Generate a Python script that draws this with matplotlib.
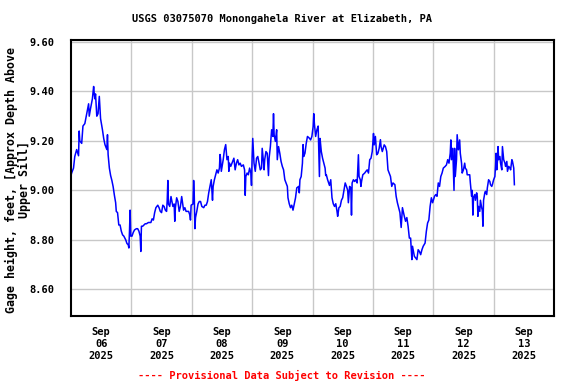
import matplotlib
matplotlib.use("Agg")
import matplotlib.pyplot as plt
import pandas as pd

title = "USGS 03075070 Monongahela River at Elizabeth, PA"
ylabel = "Gage height, feet, [Approx Depth Above\nUpper Sill]"
footer = "---- Provisional Data Subject to Revision ----"
start = "2025-09-06 00:00"
end = "2025-09-14 00:00"
yticks = [8.60, 8.80, 9.00, 9.20, 9.40, 9.60]

# hours after Sep 06 2025 00:00 and gage height (ft)
hours = [
    0.0, 0.25, 1.0, 1.5, 2.25, 3.0, 3.25, 3.5, 4.25, 4.75, 5.5, 6.25, 7.0, 7.25, 7.75, 8.5, 9.0, 9.25, 9.5, 9.75,
    10.25, 10.75, 11.25, 11.75, 12.5, 13.0, 13.5, 14.25, 14.5, 14.75, 15.25, 15.75, 16.25, 16.75, 17.25, 17.75,
    18.0, 18.5, 19.0, 19.5, 20.0, 20.5, 21.0, 21.75, 22.25, 22.75, 23.0, 23.25, 23.5, 23.75, 24.25, 24.75, 25.25,
    26.0, 26.5, 27.0, 27.5, 27.75, 28.0, 28.5, 29.0, 29.5, 30.0, 30.75, 31.25, 31.75, 32.25, 32.75, 33.25, 33.75,
    34.5, 35.0, 35.5, 36.0, 36.5, 37.0, 37.5, 38.0,
    38.25, 38.5, 38.75, 39.25, 39.75, 40.5, 41.0, 41.25, 41.5, 42.0, 42.5, 43.0, 43.5, 44.0, 44.75, 45.25, 45.75,
    46.25, 46.75, 47.25, 47.5, 47.75, 48.5, 48.75, 49.0, 49.25, 49.5, 50.0, 50.5, 51.0, 51.5, 52.0, 52.75, 53.25,
    53.75, 54.25, 54.75, 55.25, 55.75, 56.25, 56.5, 57.0, 57.5, 58.0, 58.5, 59.0, 59.25, 59.5, 59.75, 60.5, 61.0,
    61.5, 62.0, 62.5, 62.75, 63.0, 63.5, 64.0, 64.75, 65.25, 65.75, 66.25, 66.75, 67.25, 67.75, 68.5, 69.0, 69.25,
    69.5, 70.0, 70.5, 71.0, 71.5, 71.75, 72.0, 72.25, 72.75, 73.25, 73.75, 74.25, 74.75, 75.25, 75.75, 76.0, 76.5,
    76.75, 77.0, 77.5, 78.0, 78.5, 78.75, 79.25, 79.75, 80.25, 80.5, 80.75, 81.25, 81.75, 82.0, 82.5, 83.0, 83.5,
    84.0, 84.5, 85.0, 85.5, 86.0, 86.25, 86.75, 87.25, 87.75, 88.25, 88.75, 89.25, 89.75, 90.5, 90.75, 91.0, 91.5,
    92.0, 92.25, 92.5, 93.0, 93.5, 94.0, 94.75, 95.25, 95.75, 96.25, 96.5, 96.75, 97.25, 97.75, 98.25, 98.75, 99.0,
    99.5, 100.0, 100.5, 101.0, 101.25, 101.5, 102.0, 102.75, 103.25, 103.75, 104.25, 104.75, 105.25, 105.75, 106.0,
    106.5, 107.0, 107.5, 108.0, 108.5, 109.0, 109.5, 110.0, 110.25, 110.75, 111.25, 111.5, 111.75, 112.25, 112.75,
    113.25, 113.75,
    114.0, 114.25, 114.5, 115.0, 115.25, 115.5, 116.0, 116.75, 117.25, 117.75, 118.25, 118.75, 119.25, 119.75,
    120.25, 120.5, 121.0, 121.5, 122.0, 122.5, 123.0, 123.25, 123.75, 124.5, 125.0, 125.5, 126.0, 126.5, 127.0,
    127.5, 128.0, 128.75, 129.25, 129.75, 130.25, 130.75, 131.25, 131.75, 132.5, 133.0, 133.5, 134.0, 134.5, 135.0,
    135.5, 135.75, 136.5, 137.0, 137.5, 138.0, 138.5, 139.0, 139.5, 140.0, 140.75, 141.25, 141.75, 142.25, 142.75,
    143.25, 143.75, 144.5, 145.0, 145.5, 146.0, 146.5, 147.0, 147.5, 148.0, 148.75, 149.25, 149.75, 150.25, 150.75,
    151.0, 151.25, 151.75, 152.25, 152.5,
    152.75, 153.25, 153.5, 154.0, 154.5, 154.75, 155.25, 155.5, 156.0, 156.5, 156.75, 157.25, 157.5, 158.0, 158.5,
    158.75, 159.25, 159.5, 159.75, 160.0, 160.5, 160.75, 161.25, 161.5, 161.75, 162.0, 162.5, 162.75, 163.25, 163.5,
    163.75, 164.0, 164.5, 164.75, 165.25, 165.5, 166.0, 166.5, 166.75, 167.25, 167.5, 168.0, 168.5, 168.75, 169.0,
    169.25, 169.5, 169.75, 170.0, 170.5, 170.75, 171.25, 171.5, 172.0, 172.5, 172.75, 173.25, 173.5, 174.0, 174.5,
    174.75, 175.25, 175.5, 176.0, 176.25,
]
gage_ft = [
    9.06, 9.07, 9.09, 9.137, 9.165, 9.14, 9.24, 9.20, 9.19, 9.26, 9.27, 9.31, 9.35, 9.30, 9.33, 9.37, 9.42, 9.39, 9.37, 9.39,
    9.30, 9.31, 9.38, 9.29, 9.245, 9.21, 9.185, 9.165, 9.225, 9.145, 9.09, 9.06, 9.04, 9.015, 8.98, 8.95,
    8.915, 8.91, 8.86, 8.86, 8.835, 8.82, 8.815, 8.80, 8.785, 8.78, 8.767, 8.835, 8.92, 8.815, 8.815, 8.83, 8.84,
    8.845, 8.845, 8.835, 8.815, 8.753, 8.855, 8.855, 8.86, 8.865, 8.865, 8.87, 8.87, 8.87, 8.885, 8.88, 8.91, 8.93,
    8.94, 8.93, 8.915, 8.91, 8.94, 8.935, 8.92, 8.915,
    8.96, 9.04, 8.945, 8.935, 8.975, 8.935, 8.945, 8.875, 8.93, 8.97, 8.955, 8.915, 8.935, 8.975, 8.92, 8.93, 8.915,
    8.915, 8.915, 8.90, 8.88, 8.94, 8.945, 9.04, 8.98, 8.845, 8.89, 8.915, 8.945, 8.955, 8.955, 8.935, 8.93, 8.94,
    8.94, 8.955, 8.99, 9.016, 9.043, 8.96, 9.016, 9.043, 9.063, 9.083, 9.07, 9.09, 9.145, 9.124, 9.077, 9.124, 9.165,
    9.185, 9.124, 9.137, 9.077, 9.11, 9.097, 9.11, 9.13, 9.083, 9.11, 9.124, 9.103, 9.11, 9.097, 9.103, 9.083, 8.98,
    9.056, 9.07, 9.063, 9.09, 9.07, 9.02, 9.137, 9.21, 9.11, 9.077, 9.13, 9.137, 9.11, 9.083, 9.09, 9.17, 9.117,
    9.083, 9.124, 9.157, 9.15, 9.06, 9.13, 9.177, 9.245, 9.218, 9.31, 9.225, 9.198, 9.245, 9.124, 9.177, 9.15, 9.117,
    9.097, 9.083, 9.043, 9.03, 9.016, 8.97, 8.946, 8.93, 8.94, 8.92, 8.946, 8.97, 9.01, 9.016, 8.99, 9.043, 9.056,
    9.11, 9.185, 9.137, 9.15, 9.19, 9.218, 9.211, 9.204, 9.218, 9.258, 9.31, 9.27, 9.218, 9.245, 9.26, 9.056, 9.21,
    9.157, 9.13, 9.11, 9.09, 9.06, 9.063, 9.043, 9.02, 9.043, 8.97, 8.946, 8.935, 8.946, 8.915, 8.895,
    8.93, 8.935, 8.96, 8.97, 9.00, 9.03, 9.016, 9.00, 8.95, 9.016, 9.01, 8.90, 9.03, 9.043, 9.036,
    9.043, 9.03,
    9.09, 9.144, 9.056, 9.043, 9.016, 9.036, 9.063, 9.07, 9.077, 9.083, 9.07, 9.124, 9.13, 9.157,
    9.23, 9.184, 9.218, 9.144, 9.15, 9.17, 9.205, 9.177, 9.157, 9.184, 9.177, 9.157, 9.083, 9.07, 9.056,
    9.016, 9.03, 9.023, 8.976, 8.95, 8.93, 8.91, 8.85, 8.93, 8.895, 8.875, 8.89, 8.855, 8.807, 8.807,
    8.72, 8.774, 8.733, 8.727, 8.72, 8.76, 8.753, 8.74, 8.76, 8.774, 8.787, 8.834, 8.868, 8.88, 8.935,
    8.97, 8.95, 8.976, 8.983, 8.976, 9.03, 9.016, 9.056, 9.07, 9.09, 9.097, 9.103, 9.124, 9.11, 9.15,
    9.204, 9.124, 9.17, 9.0, 9.17,
    9.056, 9.124, 9.225, 9.164, 9.204, 9.15, 9.11, 9.07, 9.083, 9.11, 9.09, 9.083, 9.063, 9.063, 9.063,
    9.03, 8.976, 9.00, 8.90, 8.97, 8.983, 8.96, 8.99, 8.976, 8.895, 8.935, 8.915, 8.96, 8.93, 8.92,
    8.855, 8.96, 8.99, 8.996, 8.983, 9.01, 9.043, 9.036, 9.023, 9.016, 9.023, 9.043, 9.056, 9.097, 9.15,
    9.083, 9.117, 9.177, 9.124, 9.137, 9.11, 9.083, 9.177, 9.124, 9.11, 9.097, 9.117, 9.077, 9.097, 9.09,
    9.083, 9.124, 9.117, 9.09, 9.023,
]

t0 = pd.Timestamp(start)
times = t0 + pd.to_timedelta(hours, unit="h")

font = "DejaVu Sans Mono"
fs = 7.5

fig = plt.figure(figsize=(5.76, 3.84), dpi=100)
ax = fig.add_axes([71 / 576, 1 - 316 / 384, (554 - 71) / 576, (316 - 39.5) / 384])

ax.plot(times, gage_ft, color="#0000ff", linewidth=1.1)

ax.set_xlim(pd.Timestamp(start), pd.Timestamp(end))
ax.set_ylim(8.492, 9.61)

# labels at noon, grid at midnight
noon_ticks = pd.date_range("2025-09-06 12:00", periods=8, freq="D")
mid_ticks = pd.date_range("2025-09-07 00:00", periods=7, freq="D")
ax.set_xticks(noon_ticks)
ax.set_xticklabels([d.strftime("%b\n%d\n%Y") for d in noon_ticks], fontfamily=font,
                   fontweight="bold", fontsize=fs, linespacing=1.25)
ax.set_xticks(mid_ticks, minor=True)
ax.tick_params(axis="x", which="both", length=0, pad=8)
ax.grid(False)
ax.grid(True, axis="x", which="minor", color="#c8c8c8", linewidth=1.0)

ax.set_yticks(yticks)
ax.set_yticklabels([f"{v:.2f}" for v in yticks], fontfamily=font, fontweight="bold", fontsize=fs)
ax.tick_params(axis="y", length=0, pad=12)
ax.grid(True, axis="y", which="major", color="#c8c8c8", linewidth=1.0)
ax.set_axisbelow(True)

for s in ax.spines.values():
    s.set_linewidth(1.5)
    s.set_color("black")

fig.text(18 / 576, 1 - 180 / 384, ylabel, rotation=90, ha="center", va="center",
         multialignment="center", fontfamily=font, fontweight="bold", fontsize=8.4,
         linespacing=0.95)

fig.text(282 / 576, 1 - 19 / 384, title, ha="center", va="center", fontfamily=font,
         fontweight="bold", fontsize=fs)
fig.text(282 / 576, 1 - 375 / 384, footer, ha="center", va="center", fontfamily=font,
         fontweight="bold", fontsize=fs, color="#ff0000")

fig.savefig("out.png", dpi=100)
